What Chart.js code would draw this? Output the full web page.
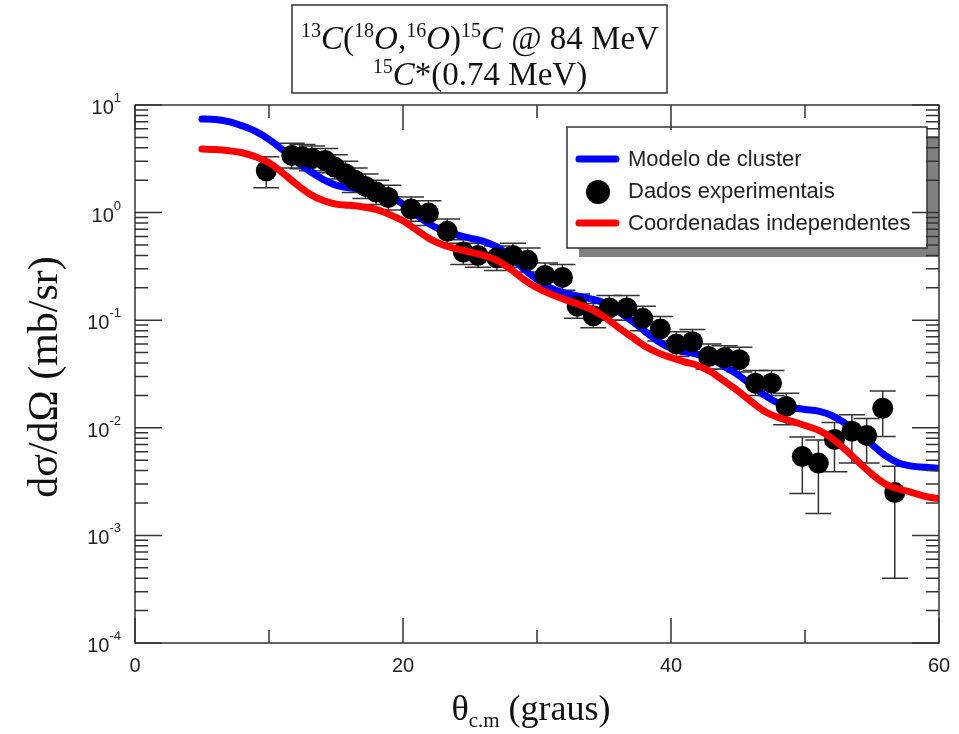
<!DOCTYPE html>
<html>
<head>
<meta charset="utf-8">
<script src="https://cdn.jsdelivr.net/npm/chart.js@4.4.0/dist/chart.umd.min.js"></script>
<style>
    html, body { margin: 0; padding: 0; background: #fff; }
</style>
</head>
<body>
<canvas id="xsChart" width="959" height="734"></canvas>
<script>
// Theoretical curves (angle in degrees, c.m.)
const curveAngle = [5, 6, 7, 8, 9, 10, 11, 12, 13, 14, 15, 16, 17, 18, 19, 20, 21, 22, 23, 24, 25, 26, 27, 28, 29, 30,
    31, 32, 33, 34, 35, 36, 37, 38, 39, 40, 41, 42, 43, 44, 45, 46, 47, 48, 49, 50, 51, 52, 53, 54, 55, 56, 57, 58, 59, 60];
const clusterModel = [7.4, 7.35, 7.0, 6.4, 5.7, 4.8, 3.85, 3.0, 2.45, 2.05, 1.8, 1.7, 1.65, 1.58, 1.42, 1.2, 0.95, 0.78, 0.68, 0.62,
    0.58, 0.54, 0.48, 0.39, 0.3, 0.24, 0.2, 0.18, 0.168, 0.158, 0.145, 0.122, 0.1, 0.08, 0.064, 0.055, 0.051, 0.048, 0.044, 0.037,
    0.031, 0.025, 0.02, 0.017, 0.0155, 0.0148, 0.0143, 0.013, 0.011, 0.009, 0.007, 0.0055, 0.0047, 0.0044, 0.0043, 0.0042];
const independentCoords = [3.9, 3.85, 3.75, 3.6, 3.3, 2.9, 2.35, 1.85, 1.5, 1.3, 1.2, 1.17, 1.13, 1.07, 0.96, 0.84, 0.69, 0.57, 0.5, 0.46,
    0.43, 0.4, 0.36, 0.3, 0.24, 0.2, 0.175, 0.157, 0.142, 0.127, 0.108, 0.087, 0.071, 0.058, 0.05, 0.045, 0.041, 0.038, 0.033, 0.027,
    0.022, 0.0175, 0.0142, 0.0125, 0.0115, 0.0105, 0.0095, 0.008, 0.0063, 0.0048, 0.0037, 0.003, 0.0027, 0.0025, 0.0023, 0.0022];

// Experimental data with error bars
const expAngle = [9.8, 11.7, 12.5, 13.2, 14.2, 14.9, 15.7, 16.4, 17.2, 18.0, 18.9, 20.6, 21.9, 23.3, 24.5, 25.6, 27.0, 28.2, 29.3,
    30.6, 31.9, 33.0, 34.2, 35.4, 36.7, 37.9, 39.2, 40.4, 41.6, 42.8, 44.0, 45.1, 46.3, 47.5, 48.6, 49.8, 51.0, 52.2, 53.5, 54.6, 55.8, 56.7];
const expValue = [2.45, 3.4, 3.3, 3.2, 3.05, 2.65, 2.3, 2.0, 1.75, 1.55, 1.38, 1.08, 0.99, 0.67, 0.43, 0.40, 0.38, 0.40, 0.36,
    0.26, 0.25, 0.135, 0.11, 0.13, 0.13, 0.104, 0.083, 0.06, 0.063, 0.046, 0.045, 0.043, 0.026, 0.026, 0.0158, 0.0054, 0.0047, 0.0078, 0.0093, 0.0085, 0.0152, 0.0025];
const expLow = [1.7, 2.6, 2.55, 2.45, 2.35, 2.05, 1.77, 1.54, 1.35, 1.19, 1.06, 0.83, 0.76, 0.52, 0.33, 0.31, 0.29, 0.31, 0.28,
    0.2, 0.19, 0.104, 0.085, 0.1, 0.1, 0.08, 0.064, 0.046, 0.048, 0.035, 0.035, 0.033, 0.02, 0.02, 0.0107, 0.00245, 0.0016, 0.0039, 0.0047, 0.0047, 0.0083, 0.0004];
const expHigh = [3.3, 4.4, 4.3, 4.15, 3.95, 3.45, 3.0, 2.6, 2.28, 2.0, 1.8, 1.4, 1.29, 0.87, 0.56, 0.52, 0.49, 0.52, 0.47,
    0.34, 0.33, 0.175, 0.143, 0.17, 0.17, 0.135, 0.108, 0.078, 0.082, 0.06, 0.058, 0.056, 0.034, 0.034, 0.021, 0.0082, 0.0077, 0.0112, 0.0132, 0.0122, 0.022, 0.0044];

const xTicks = [0, 20, 40, 60];
const xMinorTicks = [10, 30, 50];
const yTickExponents = [1, 0, -1, -2, -3, -4];

const legendLabels = ['Modelo de cluster', 'Dados experimentais', 'Coordenadas independentes'];

const SERIF = '"Liberation Serif", "Times New Roman", serif';
const SANS = '"Liberation Sans", Arial, sans-serif';
const FRAME = '#333';

function drawRuns(ctx, runs, cx, baseline) {
    let total = 0;
    runs.forEach(r => { ctx.font = r.font; r.w = ctx.measureText(r.t).width; total += r.w; });
    let x = cx - total / 2;
    ctx.textAlign = 'left';
    ctx.textBaseline = 'alphabetic';
    runs.forEach(r => {
        ctx.font = r.font;
        ctx.fillText(r.t, x, baseline + (r.dy || 0));
        x += r.w;
    });
}

// error bars under the curves
const errorBars = {
    id: 'errorBars',
    beforeDatasetsDraw(chart) {
        const ctx = chart.ctx;
        const xs = chart.scales.x, ys = chart.scales.y;
        ctx.save();
        ctx.strokeStyle = '#333';
        ctx.lineWidth = 1.5;
        expAngle.forEach((a, i) => {
            const px = xs.getPixelForValue(a);
            const top = ys.getPixelForValue(expHigh[i]);
            const bot = ys.getPixelForValue(expLow[i]);
            ctx.beginPath();
            ctx.moveTo(px, top); ctx.lineTo(px, bot);
            ctx.moveTo(px - 13, top); ctx.lineTo(px + 13, top);
            ctx.moveTo(px - 13, bot); ctx.lineTo(px + 13, bot);
            ctx.stroke();
        });
        ctx.restore();
    }
};

// legend box with drop shadow
const legendBox = {
    id: 'legendBox',
    afterDatasetsDraw(chart) {
        const ctx = chart.ctx;
        const bx = 567, by = 127, bw = 360, bh = 121;
        ctx.save();
        ctx.fillStyle = '#808080';
        ctx.fillRect(bx + 12, by + 9, bw, bh);
        ctx.fillStyle = '#fff';
        ctx.fillRect(bx, by, bw, bh);
        ctx.strokeStyle = FRAME;
        ctx.lineWidth = 1.5;
        ctx.strokeRect(bx, by, bw, bh);

        ctx.lineCap = 'round';
        ctx.lineWidth = 7;
        ctx.strokeStyle = '#0000ff';
        ctx.beginPath(); ctx.moveTo(579, 159); ctx.lineTo(616, 159); ctx.stroke();
        ctx.strokeStyle = '#ff0000';
        ctx.beginPath(); ctx.moveTo(579, 223); ctx.lineTo(616, 223); ctx.stroke();
        ctx.fillStyle = '#000';
        ctx.beginPath(); ctx.arc(598, 192, 12, 0, Math.PI * 2); ctx.fill();

        ctx.fillStyle = '#222';
        ctx.font = '22px ' + SANS;
        ctx.textAlign = 'left';
        ctx.textBaseline = 'middle';
        ctx.fillText(legendLabels[0], 628, 160);
        ctx.fillText(legendLabels[1], 628, 192);
        ctx.fillText(legendLabels[2], 628, 224);
        ctx.restore();
    }
};

// frame, inward ticks, tick labels, titles
const frameAndText = {
    id: 'frameAndText',
    afterDraw(chart) {
        const ctx = chart.ctx;
        const xs = chart.scales.x, ys = chart.scales.y;
        const area = chart.chartArea;
        ctx.save();
        ctx.strokeStyle = FRAME;
        ctx.lineWidth = 1.5;
        ctx.strokeRect(area.left, area.top, area.right - area.left, area.bottom - area.top);

        ctx.beginPath();
        xTicks.concat(xMinorTicks).forEach(v => {
            const len = xTicks.includes(v) ? 25 : 13;
            const px = xs.getPixelForValue(v);
            ctx.moveTo(px, area.bottom); ctx.lineTo(px, area.bottom - len);
            ctx.moveTo(px, area.top); ctx.lineTo(px, area.top + len);
        });
        for (let e = -4; e <= 1; e++) {
            for (let m = 1; m <= 9; m++) {
                const v = m * Math.pow(10, e);
                if (v > 10.0001) break;
                const len = m === 1 ? 27 : 13;
                const py = ys.getPixelForValue(v);
                ctx.moveTo(area.left, py); ctx.lineTo(area.left + len, py);
                ctx.moveTo(area.right, py); ctx.lineTo(area.right - len, py);
            }
        }
        ctx.stroke();

        // x tick labels
        ctx.fillStyle = '#222';
        ctx.font = '20px ' + SANS;
        ctx.textAlign = 'center';
        ctx.textBaseline = 'middle';
        xTicks.forEach(v => ctx.fillText(String(v), xs.getPixelForValue(v), 666));

        // y tick labels 10^n
        yTickExponents.forEach(e => {
            const py = ys.getPixelForValue(Math.pow(10, e));
            ctx.font = '13px ' + SANS;
            const ew = ctx.measureText(String(e)).width;
            ctx.textAlign = 'left';
            ctx.textBaseline = 'alphabetic';
            ctx.fillText(String(e), 121 - ew, py - 3);
            ctx.font = '20px ' + SANS;
            ctx.textAlign = 'right';
            ctx.fillText('10', 121 - ew, py + 9);
        });

        // axis titles
        ctx.fillStyle = '#111';
        drawRuns(ctx, [
            { t: '\u03B8', font: '36px ' + SERIF },
            { t: 'c.m', font: '21px ' + SERIF, dy: 7 },
            { t: ' (graus)', font: '36px ' + SERIF }
        ], 531, 720);

        ctx.save();
        ctx.translate(46, 377);
        ctx.rotate(-Math.PI / 2);
        ctx.font = '42px ' + SERIF;
        ctx.textAlign = 'center';
        ctx.textBaseline = 'middle';
        ctx.fillText('d\u03C3/d\u03A9 (mb/sr)', 0, 0);
        ctx.restore();

        // title box
        ctx.fillStyle = '#fff';
        ctx.fillRect(292, 5, 375, 88);
        ctx.strokeStyle = FRAME;
        ctx.lineWidth = 1.5;
        ctx.strokeRect(292, 5, 375, 88);
        ctx.fillStyle = '#111';
        const sup = '20px ' + SERIF, it = 'italic 33px ' + SERIF, rm = '33px ' + SERIF;
        drawRuns(ctx, [
            { t: '13', font: sup, dy: -12 }, { t: 'C', font: it }, { t: '(', font: rm },
            { t: '18', font: sup, dy: -12 }, { t: 'O', font: it }, { t: ',', font: rm },
            { t: '16', font: sup, dy: -12 }, { t: 'O', font: it }, { t: ')', font: rm },
            { t: '15', font: sup, dy: -12 }, { t: 'C', font: it }, { t: ' @ 84 MeV', font: rm }
        ], 480, 49);
        drawRuns(ctx, [
            { t: '15', font: sup, dy: -12 }, { t: 'C', font: it }, { t: '*(0.74 MeV)', font: rm }
        ], 480, 85);
        ctx.restore();
    }
};

const toPoints = (xs, ys) => xs.map((x, i) => ({ x: x, y: ys[i] }));

new Chart(document.getElementById('xsChart').getContext('2d'), {
    type: 'scatter',
    data: {
        datasets: [
            {
                label: legendLabels[2],
                data: toPoints(curveAngle, independentCoords),
                showLine: true,
                borderColor: '#ff0000',
                borderWidth: 7,
                borderCapStyle: 'round',
                pointRadius: 0,
                cubicInterpolationMode: 'monotone',
                order: 0
            },
            {
                label: legendLabels[1],
                data: toPoints(expAngle, expValue),
                showLine: false,
                pointRadius: 10.5,
                pointBackgroundColor: '#000',
                pointBorderWidth: 0,
                order: 1
            },
            {
                label: legendLabels[0],
                data: toPoints(curveAngle, clusterModel),
                showLine: true,
                borderColor: '#0000ff',
                borderWidth: 7,
                borderCapStyle: 'round',
                pointRadius: 0,
                cubicInterpolationMode: 'monotone',
                order: 2
            }
        ]
    },
    options: {
        responsive: false,
        animation: false,
        layout: { padding: { left: 135, right: 20, top: 105, bottom: 91 } },
        plugins: {
            legend: { display: false },
            tooltip: { enabled: false }
        },
        scales: {
            x: { type: 'linear', min: 0, max: 60, display: false },
            y: { type: 'logarithmic', min: 0.0001, max: 10, display: false }
        }
    },
    plugins: [errorBars, legendBox, frameAndText]
});
</script>
</body>
</html>
